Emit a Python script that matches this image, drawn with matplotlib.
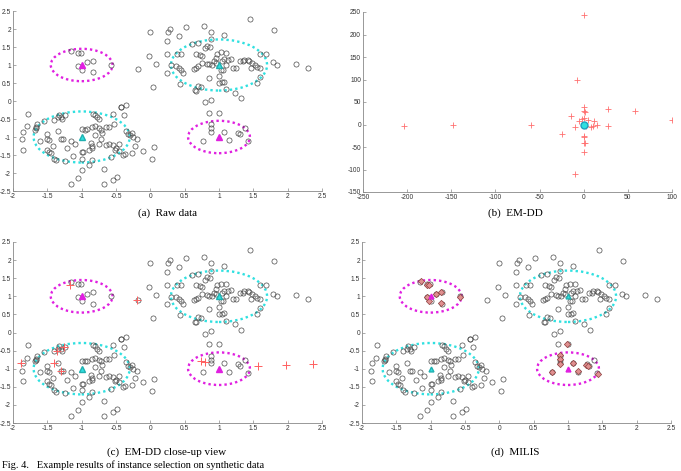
import matplotlib
matplotlib.use("Agg")
import matplotlib.pyplot as plt
from matplotlib.patches import Ellipse
import numpy as np

# ---------------- data ----------------
# raw instances (shared by panels a, c, d)
pts_x = [
    # upper-left group
    -1.15, -1.06, -1.01, -1.05, -1.0, -0.92, -0.84, -0.84, -0.57,
    # upper-right group
    1.45, 0.78, 0.52, 0.29, 0.26, -0.01, 0.89, 1.80, 1.07, 0.24, 0.42, 0.89,
    0.60, 0.69, 0.79, 0.83, 0.87, 0.39, 0.44, -0.02, 0.24, 0.67, 0.73, 0.75,
    0.95, 1.03, 1.10, 1.07, 1.05, 1.13, 0.97, 1.60, 1.68, 1.78, 1.85, 2.12,
    2.30, 1.37, 1.42, 1.44, 1.48, 1.52, 1.55, 1.47, 1.60, 1.30, 1.35, 0.95,
    0.90, 0.85, 0.82, 0.75, 0.64, 0.67, 0.70, 0.30, 0.08, 0.38, 0.42, 0.45,
    0.48, 0.24, -0.18, 0.43, 0.04, 1.00, 1.03, 1.06, 1.10, 1.20, 0.85, 1.00,
    1.05, 1.08, 1.10, 0.69, 0.74, 0.67, 0.65, 1.23, 1.32, 1.60, 1.55, 0.89,
    0.80, 1.00, 0.85, 1.25, 1.17, 0.92,
    # lower-left group
    -1.78, -1.85, -1.80, -1.85, -1.65, -1.67, -1.68, -1.66, -1.60, -1.55,
    -1.50, -1.50, -1.48, -1.50, -1.48, -1.45, -1.42, -1.40, -1.35, -1.33,
    -1.30, -1.28, -1.25, -1.35, -1.30, -1.40, -1.38, -1.25, -1.22, -1.15,
    -1.10, -1.00, -1.00, -1.00, -1.00, -0.98, -0.95, -0.92, -0.90, -0.85,
    -0.83, -0.80, -0.80, -0.78, -0.75, -0.75, -0.72, -0.87, -0.85, -0.85,
    -0.80, -0.75, -0.72, -0.70, -0.65, -0.60, -0.55, -0.53, -0.60, -0.65,
    -0.55, -0.52, -0.50, -0.45, -0.45, -0.40, -0.37, -0.43, -0.42, -0.35,
    -0.38, -0.35, -0.33, -0.30, -0.27, -0.25, -0.22, -0.20, -0.27, -0.10,
    0.02, 0.06, -0.57, -0.68, -0.55, -0.48, -1.15, -1.05, -0.67, -0.90,
    -1.12, -0.85, -1.87, -1.27,
    # lower-right group
    0.77, 0.88, 0.88, 0.88, 1.08, 1.15, 1.27, 1.30, 1.38, 1.42,
]
pts_y = [
    # upper-left group
    1.40, 1.33, 1.33, 0.98, 0.87, 1.07, 1.12, 0.80, 1.00,
    # upper-right group
    2.27, 2.08, 2.05, 2.01, 1.91, 1.93, 1.93, 1.97, 1.83, 1.67, 1.80, 1.71,
    1.58, 1.61, 1.46, 1.52, 1.50, 1.30, 1.30, 1.26, 1.30, 1.30, 1.28, 1.25,
    1.20, 1.35, 1.34, 1.16, 1.10, 1.15, 1.31, 1.30, 1.30, 1.07, 1.00, 1.03,
    0.92, 1.15, 1.14, 1.12, 1.05, 1.00, 0.94, 0.93, 0.92, 1.10, 1.10, 1.05,
    1.00, 1.02, 1.04, 1.05, 0.90, 0.93, 0.96, 0.99, 1.04, 0.97, 0.93, 0.87,
    0.78, 0.79, 0.89, 0.48, 0.40, 0.70, 0.86, 0.86, 1.00, 0.92, 0.65, 0.50,
    0.52, 0.53, 0.32, 0.42, 0.40, 0.28, 0.30, 0.23, 0.07, 0.68, 0.50, 0.04,
    -0.03, -0.32, -0.33, 0.92, 1.18, 1.10,
    # lower-left group
    -0.35, -0.85, -0.70, -1.35, -0.65, -0.72, -0.80, -0.76, -1.10, -0.55,
    -0.93, -1.05, -1.08, -1.35, -1.42, -1.45, -1.25, -0.52, -0.45, -0.38,
    -0.45, -0.50, -0.40, -0.83, -1.05, -1.60, -1.65, -1.67, -1.30, -1.10,
    -1.20, -0.78, -1.42, -1.60, -1.92, -1.42, -0.80, -0.78, -1.35, -0.72,
    -0.35, -0.38, -0.70, -0.45, -0.50, -0.75, -0.80, -1.17, -1.25, -1.30,
    -0.95, -1.20, -1.05, -0.90, -0.72, -0.72, -0.35, -0.63, -1.20, -1.22,
    -1.22, -1.35, -1.30, -1.38, -1.20, -1.50, -1.48, -0.18, -0.17, -0.12,
    -0.40, -0.82, -0.92, -0.95, -0.90, -1.00, -1.25, -1.05, -1.45, -1.38,
    -1.62, -1.28, -1.55, -1.90, -2.20, -2.10, -2.30, -2.13, -2.30, -1.77,
    -1.52, -1.65, -1.05, -1.05,
    # lower-right group
    -1.10, -0.65, -0.75, -0.85, -0.85, -1.08, -0.88, -0.92, -0.75, -1.12,
]

# true concept centres
pos_cx = [-1.0, 1.0]      # magenta (positive concepts)
pos_cy = [1.0, -1.0]
neg_cx = [-1.0, 1.0]      # cyan (negative concepts)
neg_cy = [-1.0, 1.0]

# EM-DD selected instances (panel b, full range)
emdd_x = [-203, -148, -60, -8, 0, -10, -14, -25, -10, 0, 0, 2, 0, 5, 3, 0, 0,
          0, 2, 0, 12, 15, 8, 10, 27, 27, 58, 100, -5, -2]
emdd_y = [-3, -1, 0, 100, 243, -110, 20, -22, -5, 40, 30, 28, 15, 10, -3, -25,
          -27, -40, -42, -62, 8, -2, -5, -3, 35, -3, 30, 10, 8, 12]

# EM-DD close-up (panel c)
emdd_cx = [-1.17, -0.19, -1.89, -1.40, -1.30, -1.36, -1.26, 0.74, 0.80, 1.57, 1.98, 2.37]
emdd_cy = [1.32, 0.89, -0.84, -0.84, -1.05, -0.52, -0.40, -0.80, -0.81, -0.93, -0.91, -0.86]

# MILIS selected instances (panel d)
milis_x = [-1.14, -1.06, -1.02, -1.06, -1.02, -0.92, -0.85, -0.85, -0.58,
           0.77, 0.88, 0.88, 0.88, 1.08, 1.15, 1.26, 1.29, 1.44, 0.99]
milis_y = [1.41, 1.32, 1.32, 0.98, 0.87, 1.07, 1.12, 0.81, 0.98,
           -1.09, -0.63, -0.74, -0.86, -0.84, -1.07, -0.91, -0.93, -1.14, -0.31]

captions = ["(a)  Raw data", "(b)  EM-DD", "(c)  EM-DD close-up view", "(d)  MILIS"]
fig_caption = "Fig. 4.   Example results of instance selection on synthetic data"

# ---------------- drawing ----------------
W, H = 681, 471
fig = plt.figure(figsize=(W / 100, H / 100), dpi=100)

MAG = "#e020e0"
CYN = "#30e0e0"


def ax_at(l, t, r, b):
    return fig.add_axes([l / W, 1 - b / H, (r - l) / W, (b - t) / H])


def style(ax, xt, yt):
    for s in ["top", "right"]:
        ax.spines[s].set_visible(False)
    for s in ["left", "bottom"]:
        ax.spines[s].set_color("#888888")
        ax.spines[s].set_linewidth(0.6)
    ax.set_xticks(xt)
    ax.set_yticks(yt)
    ax.set_xticklabels([f"{v:g}" for v in xt])
    ax.set_yticklabels([f"{v:g}" for v in yt])
    ax.tick_params(direction="in", length=2, width=0.5, colors="#888888",
                   labelsize=4.8, labelcolor="#333333", pad=1.5)
    ax.set_xlim(xt[0], xt[-1])
    ax.set_ylim(yt[0], yt[-1])
    for lab in ax.get_xticklabels() + ax.get_yticklabels():
        lab.set_fontfamily("Liberation Sans")


xt = [-2, -1.5, -1, -0.5, 0, 0.5, 1, 1.5, 2, 2.5]
yt = [-2.5, -2, -1.5, -1, -0.5, 0, 0.5, 1, 1.5, 2, 2.5]


def base(ax):
    style(ax, xt, yt)
    ax.plot(pts_x, pts_y, "o", ms=3.7, mfc="none", mec="#4a4a4a", mew=0.5, zorder=3)
    for cx, cy in zip(neg_cx, neg_cy):
        ax.add_patch(Ellipse((cx, cy), 1.4, 1.42, fill=False, ec=CYN,
                             ls=(0, (1.0, 1.3)), lw=1.7, zorder=2))
    for cx, cy in zip(pos_cx, pos_cy):
        ax.add_patch(Ellipse((cx, cy), 0.9, 0.9, fill=False, ec=MAG,
                             ls=(0, (1.0, 1.3)), lw=1.7, zorder=2))


def tri(ax, ms):
    ax.plot(pos_cx, pos_cy, "^", ms=ms, color=MAG, mec=MAG, zorder=5)
    ax.plot(neg_cx, neg_cy, "^", ms=ms, color=CYN, mec="#20b0b0", zorder=5)


# (a)
axa = ax_at(13, 11, 322, 191)
base(axa)
tri(axa, 5)

# (b)
axb = ax_at(363, 12, 672, 192)
style(axb, list(range(-250, 101, 50)), list(range(-150, 251, 50)))
axb.plot(emdd_x, emdd_y, "+", ms=4.5, mew=0.6, color="#ff7070", zorder=3)
axb.plot([0], [0], "o", ms=5, color=CYN, mec="#20a0c0", zorder=4)

# (c)
axc = ax_at(13, 242, 322, 423)
base(axc)
axc.plot(emdd_cx, emdd_cy, "+", ms=6, mew=0.7, color="#ff6060", zorder=4)
tri(axc, 5)

# (d)
axd = ax_at(362, 242, 671, 423)
base(axd)
axd.plot(milis_x, milis_y, "D", ms=3.2, mfc="#e09090", mec="#904040", mew=0.5, zorder=4)
tri(axd, 3.5)

# captions
for (cx, cy), txt in zip([(167, 213), (515, 213), (167, 452), (515, 452)], captions):
    fig.text(cx / W, 1 - cy / H, txt, ha="center", va="center",
             fontsize=8, family="Liberation Serif")

fig.text(2 / W, 1 - 465 / H, fig_caption,
         ha="left", va="center", fontsize=7.5, family="Liberation Serif")

fig.savefig("out.png", dpi=100)
